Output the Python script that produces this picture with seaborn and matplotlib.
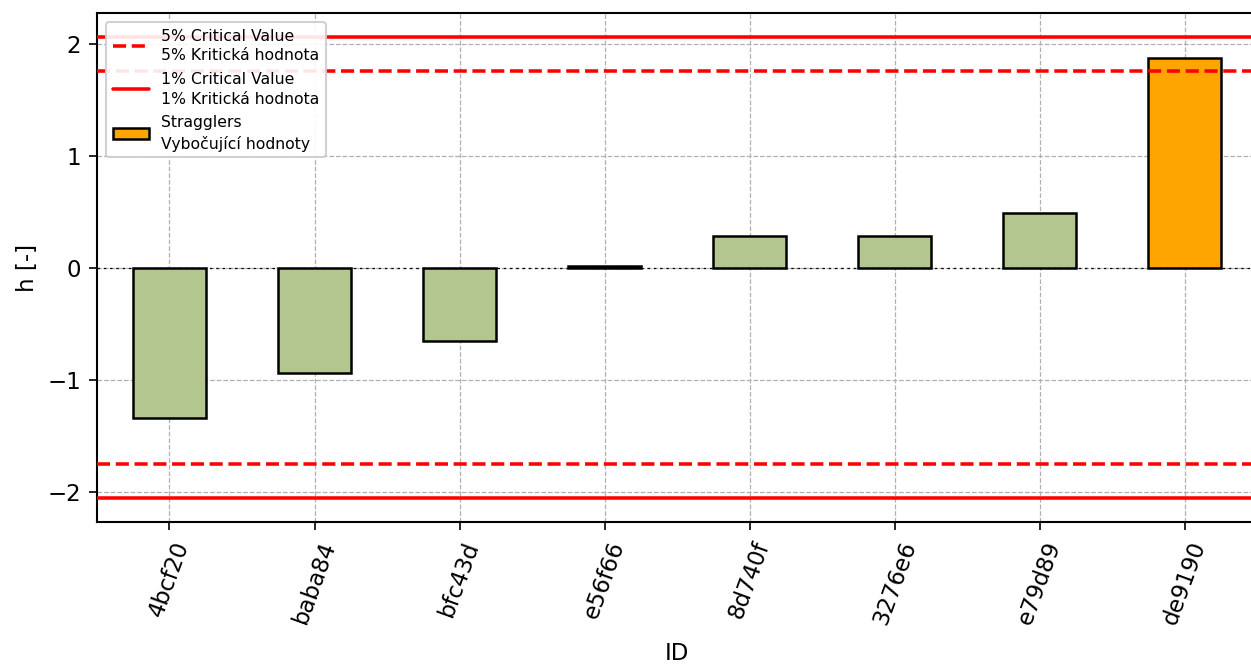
import pandas as pd
import matplotlib
matplotlib.use("Agg")
import matplotlib.pyplot as plt
from matplotlib.patches import Patch
import seaborn as sns

# data
ids = ["4bcf20", "baba84", "bfc43d", "e56f66", "8d740f", "3276e6", "e79d89", "de9190"]
h_values = [-1.34, -0.94, -0.65, 0.02, 0.28, 0.28, 0.49, 1.875]
stragglers = ["de9190"]
crit_5 = 1.755
crit_1 = 2.06

df = pd.DataFrame({"ID": ids, "h": h_values})
df["kind"] = ["straggler" if i in stragglers else "ok" for i in ids]

sns.set_style("ticks")
plt.rcParams["font.family"] = ["DejaVu Sans"]
plt.rcParams.update({"text.color": "black", "axes.labelcolor": "black",
                     "xtick.color": "black", "ytick.color": "black"})

fig = plt.figure(figsize=(8.34, 4.45), dpi=150)
ax = fig.add_axes([0.0775, 0.2174, 0.9275, 0.7631])

sns.barplot(data=df, x="ID", y="h", hue="kind",
            palette={"ok": "#b4c690", "straggler": "orange"},
            width=0.5, edgecolor="black", linewidth=1.2, saturation=1,
            dodge=False, legend=False, ax=ax)

ax.axhline(0, color="black", linewidth=0.6, linestyle=(0, (2, 3)), zorder=1)
for sgn in (1, -1):
    ax.axhline(sgn * crit_5, color="red", linestyle="--", linewidth=1.7, zorder=3)
    ax.axhline(sgn * crit_1, color="red", linestyle="-", linewidth=1.7, zorder=3)

ax.grid(True, linestyle="--", color="#b0b0b0", linewidth=0.6)
ax.set_axisbelow(True)
ax.set_ylim(-2.27, 2.28)
ax.set_xlim(-0.5, 7.5)
ax.set_yticks([-2, -1, 0, 1, 2])
ax.tick_params(axis="both", labelsize=11, length=4)
plt.setp(ax.get_xticklabels(), rotation=70)
ax.set_xlabel("ID", fontsize=11, labelpad=7)
ax.set_ylabel("h [-]", fontsize=11)
for s in ax.spines.values():
    s.set_color("black")
    s.set_linewidth(1.0)

handles = [
    plt.Line2D([], [], color="red", linestyle="--", linewidth=1.7),
    plt.Line2D([], [], color="red", linestyle="-", linewidth=1.7),
    Patch(facecolor="orange", edgecolor="black", linewidth=1.2),
]
labels = [
    "5% Critical Value\n5% Kritická hodnota",
    "1% Critical Value\n1% Kritická hodnota",
    "Stragglers\nVybočující hodnoty",
]
leg = ax.legend(handles, labels, loc="upper left", fontsize=7.5, framealpha=0.9,
                borderaxespad=0.6, handlelength=2.3, labelspacing=0.55)
for t in leg.get_texts():
    t.set_linespacing(1.4)

fig.savefig("out.png", dpi=150)
